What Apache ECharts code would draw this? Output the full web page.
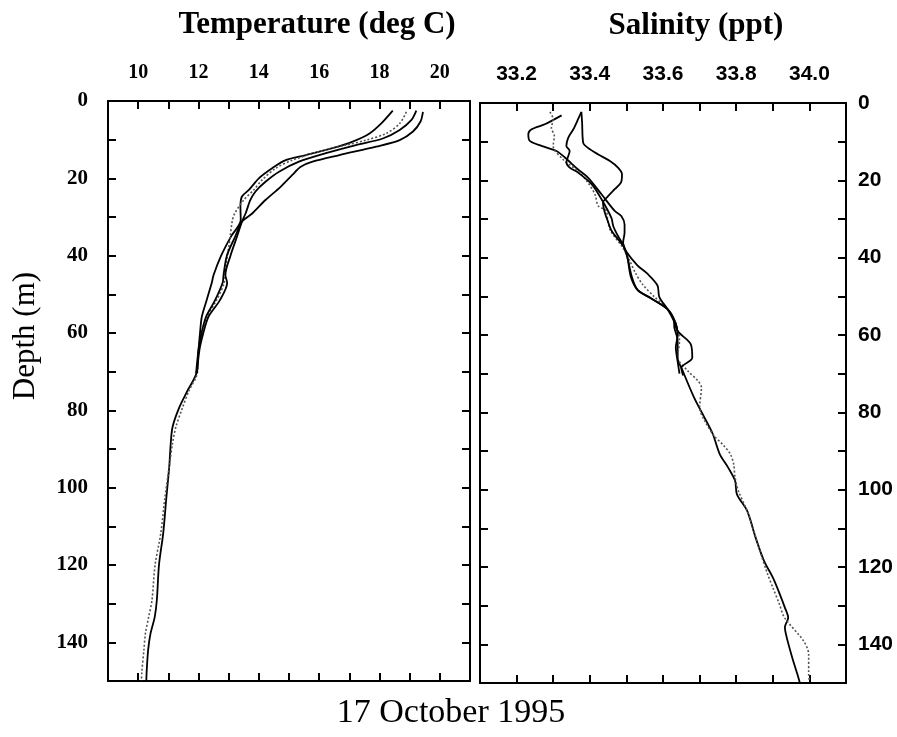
<!DOCTYPE html>
<html>
<head>
<meta charset="utf-8">
<script src="https://cdn.jsdelivr.net/npm/echarts@6/dist/echarts.min.js"></script>
<style>
  html, body { margin: 0; padding: 0; background: #fff; }
  #chart { width: 897px; height: 737px; }
</style>
</head>
<body>
<div id="chart"></div>
<script>
// CTD casts, 17 October 1995 (depth in m)

// temperature, cast 1 (solid, to 150 m)
const tDepth1 = [2.5, 5.8, 8.4, 10.5, 12.2, 14.0, 15.3, 17.4, 20.0, 23.0, 24.7, 27.3, 30.8, 35, 40, 45, 47, 51.5, 55.8, 60, 64.4, 70.4, 75, 79.3, 84.3, 88.5, 94.6, 103, 111.8, 120, 129, 133.4, 137.7, 142, 147.8, 150]
const temp1 = [18.44, 18.06, 17.67, 17.11, 16.44, 15.56, 14.89, 14.44, 14.0, 13.67, 13.44, 13.39, 13.40, 13.08, 12.75, 12.5, 12.44, 12.27, 12.11, 12.05, 12.0, 11.93, 11.63, 11.36, 11.14, 11.08, 11.03, 10.93, 10.83, 10.69, 10.62, 10.55, 10.41, 10.33, 10.28, 10.27]
// temperature, cast 2 (dotted, to 150 m)
const tDepth2 = [2.8, 5.8, 8.4, 10.1, 11.4, 13.1, 15.3, 17.4, 20.4, 23.0, 25.6, 29.1, 31, 35, 38, 42, 47, 51.5, 55.8, 60, 64.4, 70.4, 75, 79.3, 84.3, 88.5, 94.6, 103, 111.8, 120, 129, 133.4, 137.7, 142, 147.8, 150]
const temp2 = [18.89, 18.67, 18.22, 17.56, 16.89, 16.0, 15.11, 14.56, 14.11, 13.83, 13.5, 13.2, 13.12, 13.05, 13.0, 12.92, 12.85, 12.6, 12.28, 12.11, 12.0, 11.96, 11.68, 11.47, 11.25, 11.14, 11.03, 10.88, 10.75, 10.56, 10.46, 10.35, 10.24, 10.19, 10.12, 10.11]
// temperature, casts 3 and 4 (solid, to ~70 m)
const tDepth3 = [2.5, 4.9, 7.5, 9.7, 11.4, 13.5, 15.7, 18.3, 20.9, 23.4, 25.6, 29.1, 31.2, 35, 40, 45, 47, 51.5, 55.8, 60, 64.4, 70.4]
const temp3 = [19.22, 19.06, 18.67, 18.11, 17.22, 16.22, 15.33, 14.67, 14.22, 13.89, 13.72, 13.56, 13.44, 13.28, 13.06, 12.89, 12.95, 12.71, 12.33, 12.16, 12.03, 11.95]
const tDepth4 = [2.8, 5.3, 7.9, 10.1, 11.8, 14.0, 15.7, 17.0, 19.1, 22.2, 25.6, 29.1, 31.2, 35, 40, 45, 47, 51.5, 55.8, 60, 64.4, 70.4]
const temp4 = [19.44, 19.36, 19.11, 18.67, 17.89, 16.67, 15.78, 15.39, 15.11, 14.72, 14.22, 13.78, 13.44, 13.22, 12.94, 12.83, 12.8, 12.55, 12.25, 12.1, 12.0, 11.92]

// salinity, cast 1 (solid, to 150 m)
const sDepth1 = [3.2, 5.5, 6.8, 8.1, 9.8, 11.1, 12.4, 14.1, 17.2, 19.3, 23.6, 27.9, 29.2, 31.4, 33.5, 36.1, 37.4, 40, 44.9, 48.4, 50.5, 53.4, 56.4, 58.1, 61.5, 65.8, 69.3, 76.2, 81.3, 85.6, 90.8, 94.3, 97.7, 101.2, 105.5, 112.4, 118.4, 122.7, 127, 130.5, 133.1, 135.6, 138.2, 143.4, 147.7, 150]
const sal1 = [33.323, 33.277, 33.241, 33.232, 33.236, 33.268, 33.309, 33.332, 33.368, 33.395, 33.432, 33.468, 33.486, 33.495, 33.495, 33.491, 33.494, 33.503, 33.512, 33.531, 33.567, 33.613, 33.63, 33.631, 33.64, 33.64, 33.654, 33.685, 33.713, 33.736, 33.755, 33.778, 33.797, 33.802, 33.83, 33.853, 33.876, 33.9, 33.919, 33.933, 33.942, 33.933, 33.938, 33.953, 33.967, 33.974]
// salinity, cast 2 (dotted, to 150 m)
const sDepth2 = [2.3, 4.2, 6.4, 8.5, 11.1, 14.6, 17.6, 20.6, 23.6, 26.6, 27.9, 30.5, 33.1, 37.4, 41, 44, 47, 50, 53.4, 57.3, 61.5, 65.8, 69.3, 71.8, 73.6, 78.8, 82.2, 86.1, 88.5, 90.8, 93.4, 96.9, 100.3, 105.5, 109, 115, 121.9, 125.3, 129.6, 133.1, 139.1, 142.6, 147.7, 149.4]
const sal2 = [33.291, 33.30, 33.295, 33.303, 33.30, 33.327, 33.368, 33.395, 33.414, 33.423, 33.445, 33.449, 33.457, 33.49, 33.51, 33.525, 33.545, 33.575, 33.613, 33.636, 33.645, 33.64, 33.668, 33.695, 33.705, 33.70, 33.714, 33.74, 33.765, 33.784, 33.793, 33.797, 33.806, 33.83, 33.843, 33.862, 33.886, 33.9, 33.918, 33.932, 33.984, 33.998, 33.998, 34.0]
// salinity, casts 3 and 4 (solid, to ~70 m)
const sDepth3 = [2.3, 4.2, 6.8, 9.0, 11.1, 12.4, 15.4, 16.7, 18.0, 21.0, 24.9, 29.7, 31.8, 34.4, 36.6, 38.5, 42, 44.2, 47.2, 50.2, 53.4, 56.4, 59, 62.4, 65.9, 68.5, 70.5]
const sal3 = [33.377, 33.368, 33.355, 33.341, 33.336, 33.345, 33.336, 33.345, 33.368, 33.405, 33.432, 33.459, 33.464, 33.477, 33.491, 33.50, 33.53, 33.558, 33.585, 33.59, 33.613, 33.63, 33.64, 33.676, 33.68, 33.65, 33.655]
const sDepth4 = [2.3, 5.1, 10.3, 11.6, 13.3, 15.0, 16.7, 18.4, 20.6, 22.3, 24.1, 25.8, 28, 30.5, 33.1, 37.4, 40, 45, 48.4, 50.5, 53.4, 57, 60, 63.2, 66.8, 70]
const sal4 = [33.377, 33.379, 33.382, 33.395, 33.423, 33.455, 33.477, 33.488, 33.485, 33.468, 33.45, 33.436, 33.44, 33.449, 33.46, 33.494, 33.503, 33.515, 33.531, 33.567, 33.613, 33.635, 33.64, 33.635, 33.64, 33.645]

// axis tick labels
const tempLabels = [10, 12, 14, 16, 18, 20]
const salLabels = ['33.2', '33.4', '33.6', '33.8', '34.0']
const depthLabels = [0, 20, 40, 60, 80, 100, 120, 140]

const SERIF = '"Liberation Serif", "Times New Roman", serif'
const SANS = '"Liberation Sans", Arial, sans-serif'

const pairs = (vals, depths) => vals.map((v, i) => [v, depths[i]])

const chart = echarts.init(document.getElementById('chart'))

// ticks point into the box on every side; onZero off so the bottom axes stay at the bottom
const tick = { show: true, inside: true, length: 8, lineStyle: { color: '#000', width: 2 } }
const line = { show: true, onZero: false, lineStyle: { color: '#000', width: 2 } }

const depthAxis = (grid, pos, labelShow, font, margin) => ({
  type: 'value',
  gridIndex: grid,
  position: pos,
  inverse: true,
  min: 0,
  max: 150,
  interval: 10,
  axisLine: line,
  axisTick: tick,
  splitLine: { show: false },
  axisLabel: {
    show: labelShow,
    margin: margin,
    fontFamily: font,
    fontWeight: 'bold',
    fontSize: 21,
    color: '#000',
    formatter: v => depthLabels.includes(Math.round(v)) ? String(Math.round(v)) : ''
  }
})

const solid = { color: '#000', width: 1.8 }
const dotted = { color: '#555', width: 1.6, type: [2, 2] }

const mk = (name, data, x, y, style) => ({
  name,
  type: 'line',
  xAxisIndex: x,
  yAxisIndex: y,
  data,
  showSymbol: false,
  smooth: 0.3,
  lineStyle: style,
  z: 1
})

const option = {
  animation: false,
  backgroundColor: '#fff',
  grid: [
    { left: 108, top: 101, width: 362, height: 580 },
    { left: 480, top: 103, width: 366, height: 580 }
  ],
  xAxis: [
    {
      type: 'value', gridIndex: 0, position: 'top',
      min: 9, max: 21, interval: 1,
      axisLine: line, axisTick: tick, splitLine: { show: false },
      axisLabel: {
        margin: 18, fontFamily: SERIF, fontWeight: 'bold', fontSize: 20, color: '#000',
        formatter: v => tempLabels.includes(Math.round(v)) ? String(Math.round(v)) : ''
      }
    },
    {
      type: 'value', gridIndex: 0, position: 'bottom',
      min: 9, max: 21, interval: 1,
      axisLine: line, axisTick: tick, splitLine: { show: false },
      axisLabel: { show: false }
    },
    {
      type: 'value', gridIndex: 1, position: 'top',
      min: 33.1, max: 34.1, interval: 0.1,
      axisLine: line, axisTick: tick, splitLine: { show: false },
      axisLabel: {
        margin: 18, fontFamily: SANS, fontWeight: 'bold', fontSize: 21, color: '#000',
        formatter: v => {
          const s = v.toFixed(1)
          return salLabels.includes(s) ? s : ''
        }
      }
    },
    {
      type: 'value', gridIndex: 1, position: 'bottom',
      min: 33.1, max: 34.1, interval: 0.1,
      axisLine: line, axisTick: tick, splitLine: { show: false },
      axisLabel: { show: false }
    }
  ],
  yAxis: [
    depthAxis(0, 'left', true, SERIF, 20),
    depthAxis(0, 'right', false, SERIF, 8),
    depthAxis(1, 'left', false, SANS, 8),
    depthAxis(1, 'right', true, SANS, 12)
  ],
  series: [
    mk('T cast 1', pairs(temp1, tDepth1), 0, 0, solid),
    mk('T cast 2', pairs(temp2, tDepth2), 0, 0, dotted),
    mk('T cast 3', pairs(temp3, tDepth3), 0, 0, solid),
    mk('T cast 4', pairs(temp4, tDepth4), 0, 0, solid),
    mk('S cast 1', pairs(sal1, sDepth1), 2, 3, solid),
    mk('S cast 2', pairs(sal2, sDepth2), 2, 3, dotted),
    mk('S cast 3', pairs(sal3, sDepth3), 2, 3, solid),
    mk('S cast 4', pairs(sal4, sDepth4), 2, 3, solid)
  ],
  graphic: [
    {
      type: 'text', x: 317, y: 25,
      style: {
        text: 'Temperature (deg C)', font: 'bold 31px ' + SERIF, fill: '#000',
        align: 'center', verticalAlign: 'middle', textAlign: 'center', textVerticalAlign: 'middle'
      }
    },
    {
      type: 'text', x: 696, y: 26,
      style: {
        text: 'Salinity (ppt)', font: 'bold 31px ' + SERIF, fill: '#000',
        align: 'center', verticalAlign: 'middle', textAlign: 'center', textVerticalAlign: 'middle'
      }
    },
    {
      type: 'text', x: 26, y: 336, rotation: Math.PI / 2,
      style: {
        text: 'Depth (m)', font: '31px ' + SERIF, fill: '#000',
        align: 'center', verticalAlign: 'middle', textAlign: 'center', textVerticalAlign: 'middle'
      }
    },
    {
      type: 'text', x: 451, y: 713,
      style: {
        text: '17 October 1995', font: '34px ' + SERIF, fill: '#000',
        align: 'center', verticalAlign: 'middle', textAlign: 'center', textVerticalAlign: 'middle'
      }
    }
  ]
}

chart.setOption(option)
</script>
</body>
</html>
